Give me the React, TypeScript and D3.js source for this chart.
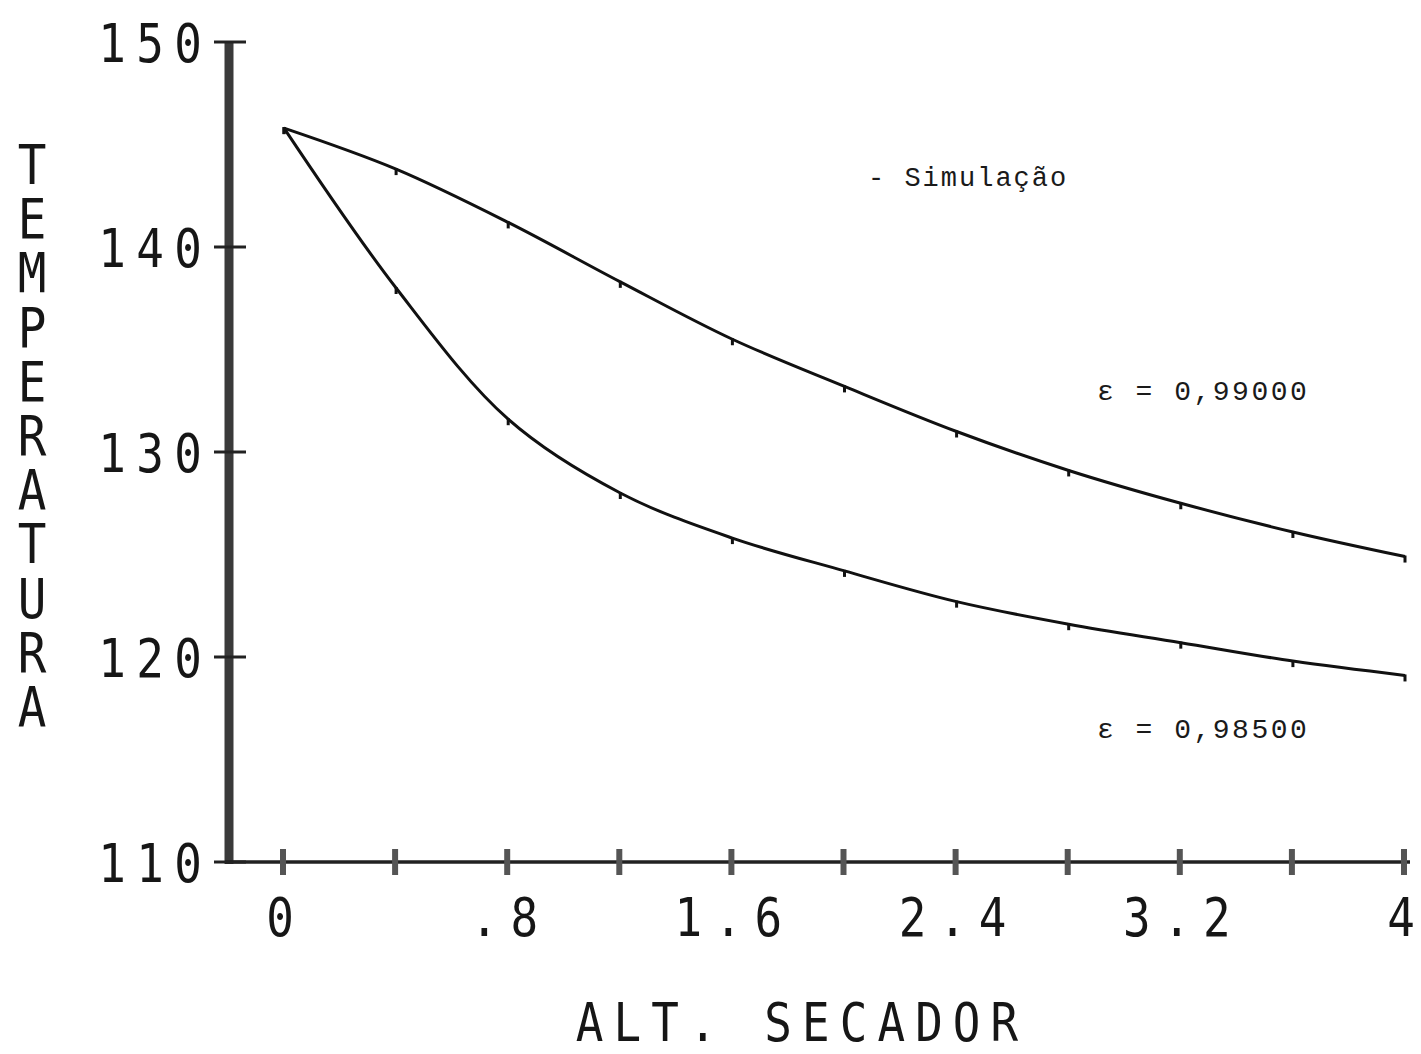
import React from "react";
import * as d3 from "d3";

const xValues = [0, 0.4, 0.8, 1.2, 1.6, 2.0, 2.4, 2.8, 3.2, 3.6, 4.0];
const eps99000 = [145.8, 143.8, 141.2, 138.3, 135.5, 133.2, 131.0, 129.1, 127.5, 126.1, 124.9];
const eps98500 = [145.8, 138.0, 131.6, 128.0, 125.8, 124.2, 122.7, 121.6, 120.7, 119.8, 119.1];
const xTicks = [0, 0.4, 0.8, 1.2, 1.6, 2.0, 2.4, 2.8, 3.2, 3.6, 4.0];
const xTickLabels = [
  { v: 0, t: "0" },
  { v: 0.8, t: ".8" },
  { v: 1.6, t: "1.6" },
  { v: 2.4, t: "2.4" },
  { v: 3.2, t: "3.2" },
  { v: 4, t: "4" },
];
const yTicks = [110, 120, 130, 140, 150];
const yTitle = "TEMPERATURA";
const xTitle = "ALT. SECADOR";
const seriesLabels = ["ε = 0,99000", "ε = 0,98500"];
const legendText = "- Simulação";

const DOT_FONT = "'DejaVu Sans Mono', monospace";
const TYPE_FONT = "'Liberation Mono', 'Courier New', monospace";

function DotText({ x, y, text, pitch, size, sx = 0.85, anchor = "middle" }) {
  const chars = Array.from(text);
  const total = (chars.length - 1) * pitch;
  const first = anchor === "middle" ? x - total / 2 : x;
  const xs = chars.map((_, i) => ((first + i * pitch) / sx).toFixed(2)).join(" ");
  return (
    <text
      transform={`scale(${sx},1)`}
      x={xs}
      y={y}
      textAnchor="middle"
      fontFamily={DOT_FONT}
      fontSize={size}
      fill="#161616"
    >
      {text}
    </text>
  );
}

export default function App() {
  const W = 1421;
  const H = 1054;
  const x = d3.scaleLinear().domain([0, 4]).range([284, 1405]);
  const y = d3.scaleLinear().domain([110, 150]).range([862, 42]);

  const line = d3
    .line<number>()
    .x((_, i) => x(xValues[i]))
    .y((d) => y(d))
    .curve(d3.curveCatmullRom.alpha(0.5));

  const series = [eps99000, eps98500];
  const sxT = 0.85;

  return (
    <svg
      width={W}
      height={H}
      style={{ position: "absolute", left: 0, top: 0, background: "#fff" }}
    >
      <rect x={0} y={0} width={W} height={H} fill="#fff" />
      {/* y axis */}
      <line x1={229} x2={229} y1={y(150)} y2={y(110) + 2} stroke="#3a3a3a" strokeWidth={9} />
      {yTicks.map((t) => (
        <line key={t} x1={214} x2={246} y1={y(t)} y2={y(t)} stroke="#222" strokeWidth={3} />
      ))}
      {yTicks.map((t) => (
        <DotText key={"l" + t} x={112} y={y(t) + 20} text={String(t)} pitch={38} size={54} anchor="start" />
      ))}
      {/* x axis */}
      <line x1={225} x2={1410} y1={y(110)} y2={y(110)} stroke="#222" strokeWidth={3.5} />
      {xTicks.map((t) => (
        <line key={t} x1={x(t) - 1} x2={x(t) - 1} y1={y(110) - 13} y2={y(110) + 13} stroke="#555" strokeWidth={6} />
      ))}
      {xTickLabels.map((d) => (
        <DotText key={d.t} x={x(d.v) - 4} y={936} text={d.t} pitch={40} size={54} />
      ))}
      {/* titles */}
      <DotText x={797} y={1041} text={xTitle} pitch={37.7} size={54} />
      <text
        transform={`scale(${sxT},1)`}
        textAnchor="middle"
        fontFamily={DOT_FONT}
        fontSize={56}
        fill="#161616"
      >
        {Array.from(yTitle).map((c, i) => (
          <tspan key={i} x={(32 / sxT).toFixed(2)} y={184 + i * 54.2}>
            {c}
          </tspan>
        ))}
      </text>
      {/* curves */}
      {series.map((s, k) => (
        <g key={k}>
          <path d={line(s) || ""} fill="none" stroke="#111" strokeWidth={3} />
          {s.map((v, i) => (
            <line
              key={i}
              x1={x(xValues[i])}
              x2={x(xValues[i])}
              y1={y(v) - 1}
              y2={y(v) + 6}
              stroke="#111"
              strokeWidth={3}
            />
          ))}
        </g>
      ))}
      {/* labels */}
      <text x={868} y={186} fontFamily={TYPE_FONT} fontSize={27} letterSpacing={2} fill="#1a1a1a">
        {legendText}
      </text>
      <text x={1097} y={400} fontFamily={TYPE_FONT} fontSize={28} letterSpacing={2.5} fill="#1a1a1a">
        {seriesLabels[0]}
      </text>
      <text x={1097} y={738} fontFamily={TYPE_FONT} fontSize={28} letterSpacing={2.5} fill="#1a1a1a">
        {seriesLabels[1]}
      </text>
    </svg>
  );
}
